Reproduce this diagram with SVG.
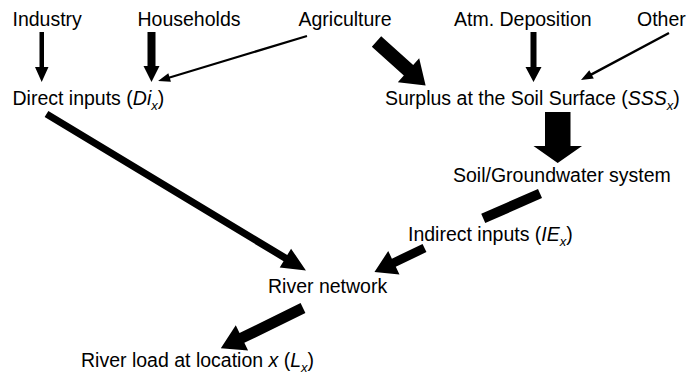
<svg xmlns="http://www.w3.org/2000/svg" width="687" height="378" viewBox="0 0 687 378">
  <style>
    .lbl { font-family: "Liberation Sans", Arial, sans-serif; font-size: 19.5px; fill: #000; }
    .it { font-style: italic; }
    .sub { font-size: 13px; font-style: italic; }
    .arr { fill: #000; stroke: none; }
  </style>
  <rect width="687" height="378" fill="#fff"/>

  <!-- nodes -->
  <g id="industry"><text class="lbl" x="12.5" y="26">Industry</text></g>
  <g id="households"><text class="lbl" x="137.5" y="26">Households</text></g>
  <g id="agriculture"><text class="lbl" x="298.5" y="26">Agriculture</text></g>
  <g id="atm-deposition"><text class="lbl" x="454" y="26">Atm. Deposition</text></g>
  <g id="other"><text class="lbl" x="637" y="26">Other</text></g>
  <g id="direct-inputs"><text class="lbl" x="12.5" y="104.5">Direct inputs (<tspan class="it">Di</tspan><tspan class="sub" dy="5">x</tspan><tspan dy="-5">)</tspan></text></g>
  <g id="soil-surplus"><text class="lbl" x="385" y="104.5">Surplus at the Soil Surface (<tspan class="it">SSS</tspan><tspan class="sub" dy="5">x</tspan><tspan dy="-5">)</tspan></text></g>
  <g id="soil-groundwater"><text class="lbl" x="453" y="182">Soil/Groundwater system</text></g>
  <g id="indirect-inputs"><text class="lbl" x="408" y="241">Indirect inputs (<tspan class="it">IE</tspan><tspan class="sub" dy="5">x</tspan><tspan dy="-5">)</tspan></text></g>
  <g id="river-network"><text class="lbl" x="268" y="293">River network</text></g>
  <g id="river-load"><text class="lbl" x="81" y="366.5">River load at location <tspan class="it">x</tspan> (<tspan class="it">L</tspan><tspan class="sub" dy="5">x</tspan><tspan dy="-5">)</tspan></text></g>

  <!-- connectors: slanted ones are drawn along +x, then placed with translate/rotate -->
  <g id="connectors" class="arr">
    <!-- Industry -> Direct inputs -->
    <polygon points="39.5,32 44,32 44,67 48.5,67 41.7,82 35,67 39.5,67"/>
    <!-- Households -> Direct inputs -->
    <polygon points="147.5,32 155.5,32 155.5,66 159.5,66 151.5,82 143.5,66 147.5,66"/>
    <!-- Atm. Deposition -> Surplus -->
    <polygon points="530.5,32 536.5,32 536.5,67 541.5,67 533.5,82 525.5,67 530.5,67"/>
    <!-- Agriculture -> Direct inputs (thin) -->
    <g transform="translate(307,36) rotate(163.19)">
      <polygon points="0,-1.1 143.5,-1.1 143.5,-4.5 155.6,0 143.5,4.5 143.5,1.1 0,1.1"/>
    </g>
    <!-- Other -> Surplus (thin) -->
    <g transform="translate(669,33) rotate(151.89)">
      <polygon points="0,-1.2 87.8,-1.2 87.8,-4.8 99.8,0 87.8,4.8 87.8,1.2 0,1.2"/>
    </g>
    <!-- Agriculture -> Surplus (thick) -->
    <g transform="translate(376.5,41.5) rotate(41.9)">
      <polygon points="0,-7 43,-7 43,-16 66,0 43,16 43,7 0,7"/>
    </g>
    <!-- Surplus -> Soil/Groundwater -->
    <polygon points="545,112 570.5,112 570.5,146 582,146 557.7,163 533.5,146 545,146"/>
    <!-- Direct inputs -> River network -->
    <g transform="translate(46.5,114) rotate(31.1)">
      <polygon points="0,-3.6 279,-3.6 279,-11 303,0 279,11 279,3.6 0,3.6"/>
    </g>
    <!-- Soil/Groundwater -> Indirect inputs (bar) -->
    <g transform="translate(540,193.5) rotate(156.3)">
      <rect x="0" y="-5" width="62" height="10"/>
    </g>
    <!-- Indirect inputs -> River network -->
    <g transform="translate(424.5,248) rotate(154.36)">
      <polygon points="0,-4.5 34,-4.5 34,-13 55.5,0 34,13 34,4.5 0,4.5"/>
    </g>
    <!-- River network -> River load -->
    <g transform="translate(303,308) rotate(153.9)">
      <polygon points="0,-5.5 68,-5.5 68,-14 91.5,0 68,14 68,5.5 0,5.5"/>
    </g>
  </g>
</svg>
